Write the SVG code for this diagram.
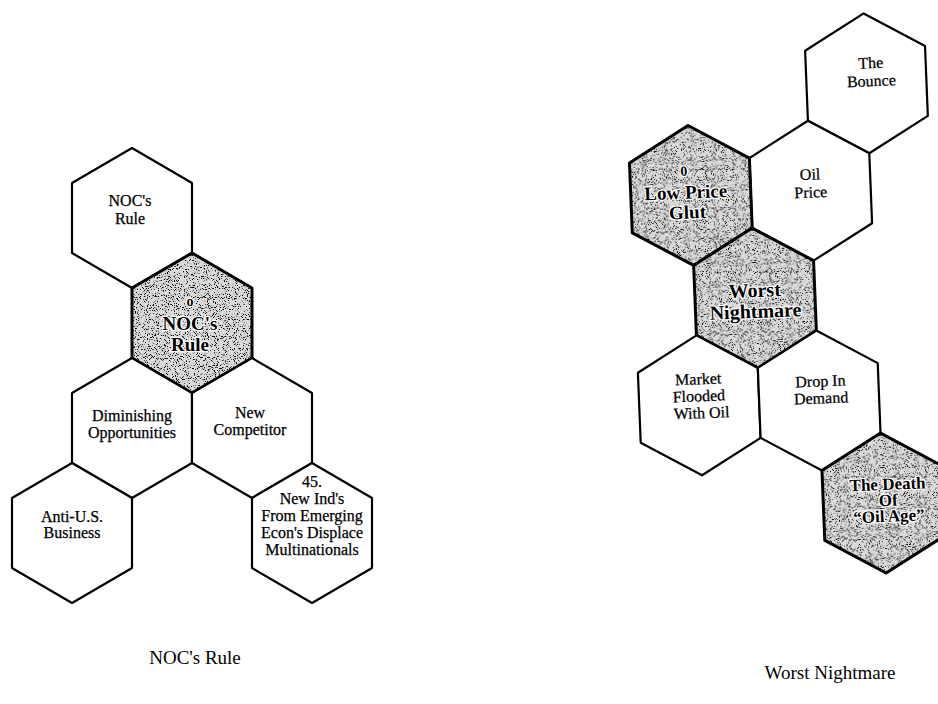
<svg xmlns="http://www.w3.org/2000/svg" width="938" height="704" viewBox="0 0 938 704">
  <defs>
    <polygon id="hex" points="0,-70 60,-35 60,35 0,70 -60,35 -60,-35"/>
    <filter id="grain" x="-5%" y="-5%" width="110%" height="110%">
      <feTurbulence type="fractalNoise" baseFrequency="0.9" numOctaves="2" seed="7" result="n"/>
      <feColorMatrix in="n" type="matrix" values="0 0 0 0 0  0 0 0 0 0  0 0 0 0 0  -9 0 0 0 3.85" result="a"/>
      <feComposite in="a" in2="SourceAlpha" operator="in"/>
    </filter>
    <style>
      .hx { fill: #fff; stroke: #000; stroke-width: 2.2; stroke-linejoin: round; }
      .sh { fill: #dadada; stroke: none; }
      .gr { fill: #000; }
      .so { fill: none; stroke: #000; stroke-width: 3; stroke-linejoin: round; }
      text { font-family: "Liberation Serif", "Times New Roman", serif; fill: #000; text-anchor: middle; }
      .t { font-size: 16px; stroke: #000; stroke-width: 0.25; }
      .b { font-weight: bold; stroke: #fff; stroke-width: 2.5; paint-order: stroke; stroke-linejoin: round; }
      .cap { font-size: 19px; }
    </style>
  </defs>

  <!-- Left cluster: NOC's Rule -->
  <g id="noc-rule-top" transform="translate(132,218)">
    <use href="#hex" class="hx"/>
    <text class="t" x="-2" y="-12">NOC's</text>
    <text class="t" x="-2" y="6">Rule</text>
  </g>
  <g id="noc-rule-center" transform="translate(192,323)">
    <use href="#hex" class="sh"/>
    <use href="#hex" class="gr" filter="url(#grain)"/>
    <use href="#hex" class="so"/>
    <text class="b" style="font-size:14px" x="-2" y="-17">o</text>
    <text class="b" style="font-size:19px" x="-2" y="7">NOC's</text>
    <text class="b" style="font-size:19px" x="-2" y="28">Rule</text>
  </g>
  <g id="diminishing" transform="translate(132,428)">
    <use href="#hex" class="hx"/>
    <text class="t" x="0" y="-7">Diminishing</text>
    <text class="t" x="0" y="10">Opportunities</text>
  </g>
  <g id="new-competitor" transform="translate(252,428)">
    <use href="#hex" class="hx"/>
    <text class="t" x="-2" y="-10">New</text>
    <text class="t" x="-2" y="7">Competitor</text>
  </g>
  <g id="anti-us" transform="translate(72,533)">
    <use href="#hex" class="hx"/>
    <text class="t" x="0" y="-11">Anti-U.S.</text>
    <text class="t" x="0" y="5">Business</text>
  </g>
  <g id="new-inds" transform="translate(312,533)">
    <use href="#hex" class="hx"/>
    <text class="t" x="0" y="-46">45.</text>
    <text class="t" x="0" y="-29">New Ind's</text>
    <text class="t" x="0" y="-12">From Emerging</text>
    <text class="t" x="0" y="5">Econ's Displace</text>
    <text class="t" x="0" y="22">Multinationals</text>
  </g>

  <!-- Right cluster: Worst Nightmare -->
  <g id="worst-nightmare-cluster" transform="rotate(-2.3,755,298)">
    <g id="the-bounce" transform="translate(875,88)">
      <use href="#hex" class="hx"/>
      <text class="t" x="5" y="-15">The</text>
      <text class="t" x="5" y="3">Bounce</text>
    </g>
    <g id="oil-price" transform="translate(815,193)">
      <use href="#hex" class="hx"/>
      <text class="t" x="0" y="-11">Oil</text>
      <text class="t" x="0" y="7">Price</text>
    </g>
    <g id="low-price-glut" transform="translate(695,193)">
      <use href="#hex" class="sh"/>
      <use href="#hex" class="gr" filter="url(#grain)"/>
      <use href="#hex" class="so"/>
      <text class="b" style="font-size:14px" x="-6" y="-20">0</text>
      <text class="b" style="font-size:19px" x="-5" y="3">Low Price</text>
      <text class="b" style="font-size:19px" x="-4" y="23">Glut</text>
    </g>
    <g id="worst-nightmare" transform="translate(755,298)">
      <use href="#hex" class="sh"/>
      <use href="#hex" class="gr" filter="url(#grain)"/>
      <use href="#hex" class="so"/>
      <text class="b" style="font-size:20px" x="0" y="-1">Worst</text>
      <text class="b" style="font-size:20px" x="0" y="20">Nightmare</text>
    </g>
    <g id="market-flooded" transform="translate(695,403)">
      <use href="#hex" class="hx"/>
      <text class="t" x="0" y="-21">Market</text>
      <text class="t" x="0" y="-4">Flooded</text>
      <text class="t" x="2" y="13">With Oil</text>
    </g>
    <g id="drop-in-demand" transform="translate(815,403)">
      <use href="#hex" class="hx"/>
      <text class="t" x="2" y="-14">Drop In</text>
      <text class="t" x="2" y="3">Demand</text>
    </g>
    <g id="death-oil-age" transform="translate(875,508)">
      <use href="#hex" class="sh"/>
      <use href="#hex" class="gr" filter="url(#grain)"/>
      <use href="#hex" class="so"/>
      <text class="b" style="font-size:17px" x="5" y="-13">The Death</text>
      <text class="b" style="font-size:17px" x="5" y="3">Of</text>
      <text class="b" style="font-size:17px" x="5" y="19">“Oil Age”</text>
    </g>
  </g>

  <g id="connectors"/>

  <!-- Captions -->
  <g id="caption-left">
    <text class="cap" x="195" y="664">NOC's Rule</text>
  </g>
  <g id="caption-right">
    <text class="cap" x="830" y="679">Worst Nightmare</text>
  </g>
</svg>
